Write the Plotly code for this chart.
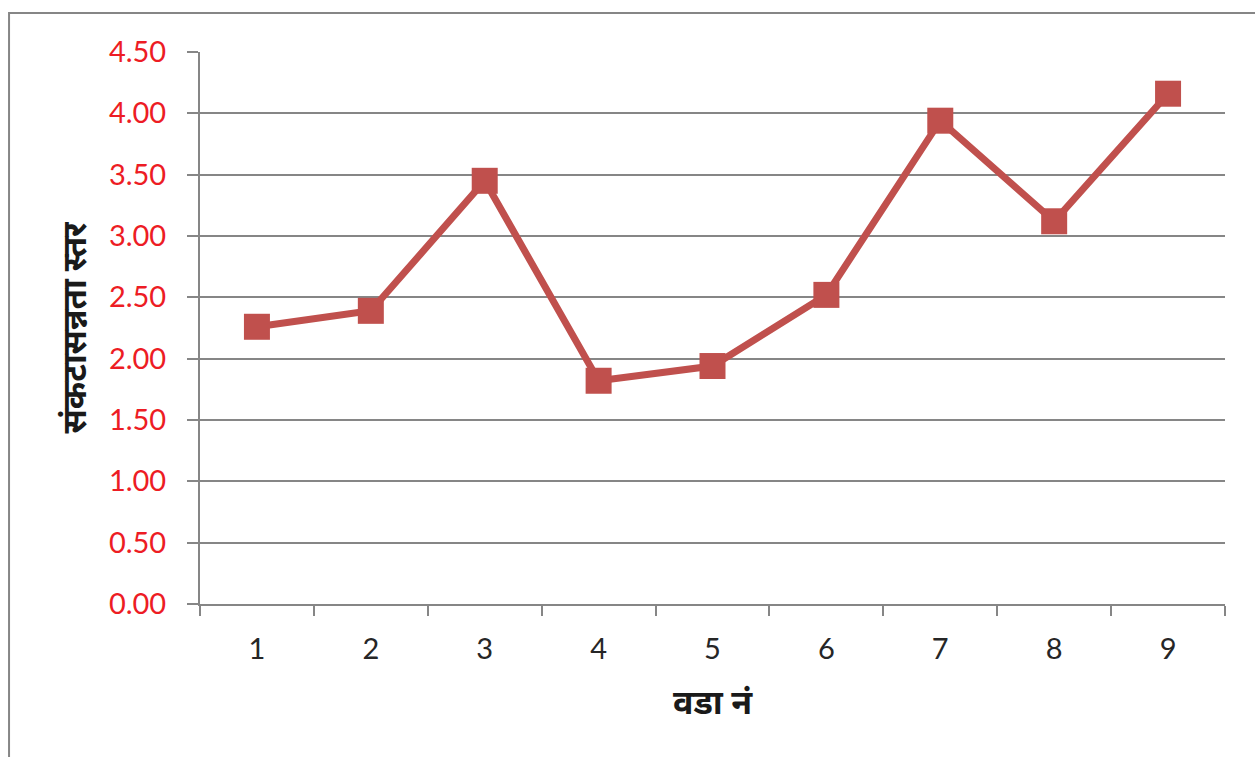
import plotly.graph_objects as go

# Ward numbers and vulnerability level per ward
wards = ["1", "2", "3", "4", "5", "6", "7", "8", "9"]
levels = [2.26, 2.39, 3.45, 1.82, 1.94, 2.52, 3.94, 3.12, 4.16]
y_ticks = [0, 0.5, 1.0, 1.5, 2.0, 2.5, 3.0, 3.5, 4.0, 4.5]
y_tick_text = [f"{v:.2f}" for v in y_ticks]

LINE_RED = "#C0504D"
AXIS_GRAY = "#868686"

fig = go.Figure()
fig.add_trace(go.Scatter(
    x=wards, y=levels, mode="lines+markers",
    line=dict(color=LINE_RED, width=7),
    marker=dict(symbol="square", size=26, color=LINE_RED),
    cliponaxis=False, showlegend=False,
))

fig.update_layout(
    width=1255, height=757,
    margin=dict(l=200, r=30, t=52, b=153),
    paper_bgcolor="white", plot_bgcolor="white",
    font=dict(family="Lato, Noto Sans, DejaVu Sans, sans-serif"),
    xaxis=dict(
        type="category", tickson="boundaries", range=[-0.5, 8.5],
        ticks="outside", ticklen=10, tickwidth=2, tickcolor=AXIS_GRAY,
        showline=True, linecolor=AXIS_GRAY, linewidth=2,
        showgrid=False, zeroline=False,
        tickfont=dict(size=29, color="#262626"), ticklabelstandoff=18,
        title=dict(text="<b>वडा नं</b>", font=dict(size=34, color="#1a1a1a"), standoff=26),
    ),
    yaxis=dict(
        range=[0, 4.5], tickvals=y_ticks, ticktext=y_tick_text,
        ticks="outside", ticklen=11, tickwidth=2, tickcolor=AXIS_GRAY,
        showline=True, linecolor=AXIS_GRAY, linewidth=2,
        showgrid=True, gridcolor=AXIS_GRAY, gridwidth=2, zeroline=False,
        tickfont=dict(size=29, color="#ED1C24"), ticklabelstandoff=15,
        title=dict(text="<b>संकटासन्नता स्तर</b>", font=dict(size=33, color="#1a1a1a"), standoff=12),
    ),
    shapes=[dict(
        type="path", xref="paper", yref="paper",
        path="M -0.1863,-0.3 L -0.1863,1.0707 L 1.04,1.0707",
        line=dict(color=AXIS_GRAY, width=2),
    )],
)

fig.write_html("out.html")
